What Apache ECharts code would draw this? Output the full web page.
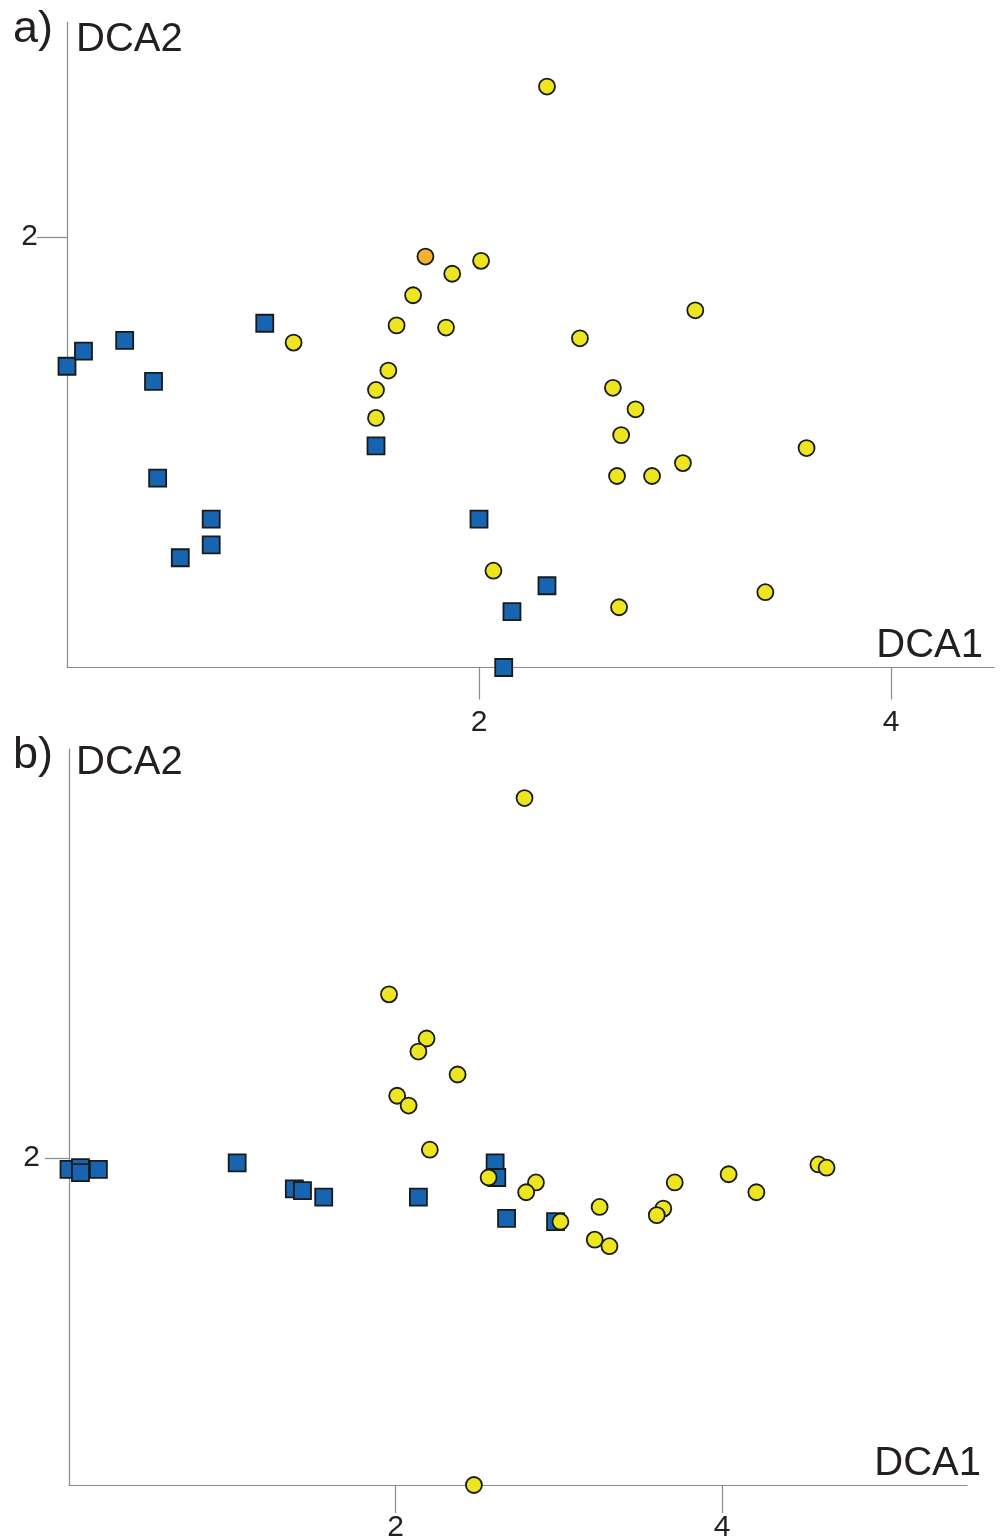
<!DOCTYPE html>
<html><head><meta charset="utf-8">
<script src="https://cdn.jsdelivr.net/npm/echarts@6/dist/echarts.min.js"></script>
<style>html,body{margin:0;padding:0;background:#fff}#c{width:1002px;height:1537px}</style>
</head><body><div id="c"></div>
<script>
// Panel a data [DCA1, DCA2]
const aSquares = [[0.00,1.40],[0.08,1.47],[0.28,1.52],[0.42,1.33],[0.44,0.88],[0.70,0.69],[0.70,0.57],[0.55,0.51],[0.96,1.60],[1.50,1.03],[2.00,0.69],[2.33,0.38],[2.16,0.26],[2.12,0.00]];
const aCircles = [[2.33,2.70],[2.01,1.89],[1.87,1.83],[1.68,1.73],[1.60,1.59],[1.84,1.58],[1.10,1.51],[2.49,1.53],[3.05,1.66],[1.56,1.38],[1.50,1.29],[1.50,1.16],[2.65,1.30],[2.76,1.20],[2.69,1.08],[2.67,0.89],[2.84,0.89],[2.99,0.95],[3.59,1.02],[2.07,0.45],[2.68,0.28],[3.39,0.35]];
const aOrange = [[1.74,1.91]];
// Panel b data
const bSquares = [[0.00,1.93],[0.07,1.94],[0.07,1.91],[0.18,1.93],[1.03,1.97],[1.38,1.81],[1.43,1.80],[1.56,1.76],[2.14,1.76],[2.61,1.97],[2.62,1.88],[2.68,1.63],[2.98,1.61]];
const bCircles = [[2.79,4.20],[1.96,3.00],[2.19,2.73],[2.14,2.65],[2.38,2.51],[2.01,2.38],[2.08,2.32],[2.21,2.05],[2.57,1.88],[2.86,1.85],[2.80,1.79],[3.01,1.61],[3.25,1.70],[3.22,1.50],[3.31,1.46],[3.64,1.69],[3.60,1.65],[3.71,1.85],[4.04,1.90],[4.21,1.79],[4.59,1.96],[4.64,1.94],[2.48,0.00]];
const xTicksA = [2,4], yTicksA = [2];
const xTicksB = [2,4], yTicksB = [2];

const FONT = '"Liberation Sans", Arial, Helvetica, sans-serif';
const TXT = '#231f20';
const AX = '#8a8a8a';
const BLUE = '#1764b0', YEL = '#ece51f', ORA = '#f5b130', EDGE = '#1a1a1a';

function ax(idx, max, ticks, margin, tickLen){
  return {gridIndex: idx, type:'value', min:0, max:max, interval:2,
    axisLine:{show:true, lineStyle:{color:AX, width:1.2}},
    axisTick:{show:true, length:tickLen, customValues:ticks, lineStyle:{color:AX, width:1.2}},
    axisLabel:{show:true, customValues:ticks, margin:margin, fontSize:30, color:TXT, fontFamily:FONT},
    splitLine:{show:false}};
}
function sc(idx, data, symbol, size, color){
  return {type:'scatter', xAxisIndex:idx, yAxisIndex:idx, data:data, symbol:symbol, symbolSize:size, clip:false,
    itemStyle:{color:color, borderColor:EDGE, borderWidth:1.8, opacity:1}, emphasis:{disabled:true}, animation:false};
}
function t(x, y, s, size, align){
  return {type:'text', x:x, y:y, style:{text:s, fontSize:size, fontFamily:FONT, fill:TXT, verticalAlign:'middle', align:align}};
}

const chart = echarts.init(document.getElementById('c'), null, {renderer:'canvas'});
chart.setOption({
  animation:false,
  backgroundColor:'#fff',
  grid:[
    {left:67, top:22, right:8, bottom:869.5, containLabel:false, outerBoundsMode:'none'},
    {left:69, top:749, right:35, bottom:52, containLabel:false, outerBoundsMode:'none'}
  ],
  xAxis:[ax(0,4.5,xTicksA,40,32), ax(1,5.5,xTicksB,28,28)],
  yAxis:[ax(0,3,yTicksA,29,30), ax(1,4.5,yTicksB,29,24)],
  series:[
    sc(0,aSquares,'rect',17,BLUE),
    sc(0,aCircles,'circle',16,YEL),
    sc(0,aOrange,'circle',16,ORA),
    sc(1,bSquares,'rect',17,BLUE),
    sc(1,bCircles,'circle',16,YEL)
  ],
  graphic:[
    t(13, 30, 'a)', 45, 'left'),
    t(76, 40, 'DCA2', 40, 'left'),
    t(983, 646, 'DCA1', 40, 'right'),
    t(13, 756, 'b)', 45, 'left'),
    t(76, 763, 'DCA2', 40, 'left'),
    t(981, 1464, 'DCA1', 40, 'right')
  ]
});
</script></body></html>
